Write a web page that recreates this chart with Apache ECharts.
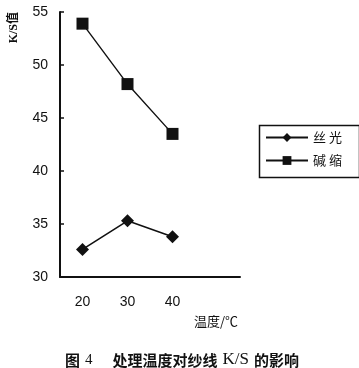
<!DOCTYPE html>
<html><head><meta charset="utf-8">
<script src="https://cdn.jsdelivr.net/npm/echarts@6/dist/echarts.min.js"></script>
<style>html,body{margin:0;padding:0;background:#fff}#c{width:359px;height:368px}</style>
</head><body><div id="c"></div>
<script>
var categories = ['20', '30', '40', ''];
var seriesNames = ['丝光', '碱缩'];
var silkValues = [32.6, 35.3, 33.8];
var shrinkValues = [53.9, 48.2, 43.5];
var yTicks = [30, 35, 40, 45, 50, 55];

var chart = echarts.init(document.getElementById('c'));
var fontFam = '"Liberation Sans", Arial, sans-serif';
var cjk = '"Noto Sans CJK SC", sans-serif';
chart.setOption({
  animation: false,
  backgroundColor: '#fff',
  title: {
    text: '{a|图} {n|4}    {a|处理温度对纱线} {k|K/S} {a|的影响}',
    left: 60, top: 346,
    textStyle: {
      fontWeight: 'normal',
      rich: {
        a: { fontSize: 15, fontWeight: 'bold', color: '#111', fontFamily: cjk },
        n: { fontSize: 15, fontWeight: 'normal', color: '#111', fontFamily: '"Liberation Serif", serif' },
        k: { fontSize: 17, fontWeight: 'normal', color: '#111', fontFamily: '"Liberation Serif", serif' }
      }
    }
  },
  graphic: [{
    type: 'rect', left: 257, top: 123,
    shape: { width: 100, height: 52 },
    style: { fill: 'none', stroke: '#111', lineWidth: 1.5 }
  }],
  legend: {
    orient: 'vertical',
    left: 257, top: 123,
    padding: [8, 8, 8, 8],
    itemGap: 10,
    itemWidth: 42, itemHeight: 11,
    textStyle: { fontSize: 13, color: '#111', fontFamily: cjk },
    formatter: function (n) { return n.split('').join(' '); },
    data: seriesNames
  },
  grid: { left: 60, top: 12, width: 180, bottom: 91, containLabel: false },
  xAxis: {
    type: 'category',
    data: categories,
    boundaryGap: true,
    name: '温度/℃',
    nameLocation: 'end',
    nameGap: 0,
    nameTextStyle: { fontSize: 13, color: '#111', fontFamily: cjk, align: 'right', verticalAlign: 'top', padding: [38, 2, 0, 0] },
    axisLine: { lineStyle: { color: '#111', width: 2 } },
    axisTick: { inside: true, length: 5, lineStyle: { color: '#111', width: 1.5 }, alignWithLabel: false },
    axisLabel: { fontSize: 14, color: '#111', margin: 18, fontFamily: fontFam }
  },
  yAxis: {
    type: 'value',
    min: 30, max: 55, interval: 5,
    name: 'K/S值',
    nameLocation: 'end',
    nameRotate: 90,
    nameGap: 0,
    nameTextStyle: { fontSize: 12, fontWeight: 'bold', color: '#111', fontFamily: '"Liberation Serif", "Noto Sans CJK SC", serif', align: 'right', verticalAlign: 'bottom', padding: [0, 0, 40, 0] },
    axisLine: { show: true, lineStyle: { color: '#111', width: 2 } },
    axisTick: { show: true, inside: true, length: 4, lineStyle: { color: '#111', width: 1.5 } },
    splitLine: { show: false },
    axisLabel: { fontSize: 14, color: '#111', margin: 12, fontFamily: fontFam, formatter: function (v) { return yTicks.indexOf(v) >= 0 ? String(v) : ''; } }
  },
  series: [
    {
      name: seriesNames[0], type: 'line', data: silkValues,
      symbol: 'diamond', symbolSize: [13, 13],
      lineStyle: { color: '#111', width: 1.6 },
      itemStyle: { color: '#111' }
    },
    {
      name: seriesNames[1], type: 'line', data: shrinkValues,
      symbol: 'rect', symbolSize: [12, 12],
      lineStyle: { color: '#111', width: 1.4 },
      itemStyle: { color: '#111' }
    }
  ]
});
</script></body></html>
